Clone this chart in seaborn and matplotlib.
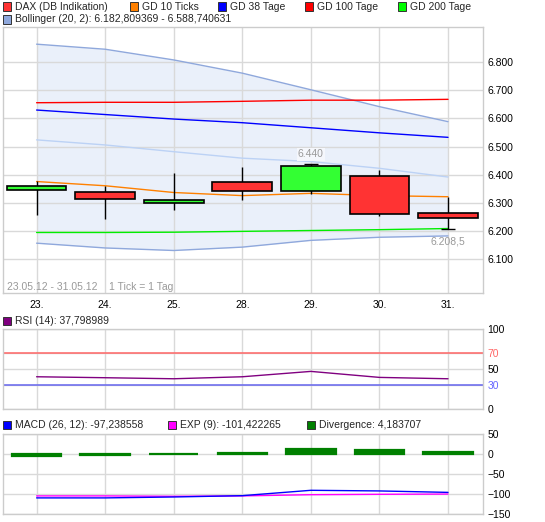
import numpy as np
import matplotlib
matplotlib.use("Agg")
import matplotlib.pyplot as plt
import matplotlib.patches as mpatches
from matplotlib.ticker import FuncFormatter
import seaborn as sns

# --- data ---
days = ["23.", "24.", "25.", "28.", "29.", "30.", "31."]
opens = [6347, 6340, 6298, 6375, 6343, 6396, 6264]
closes = [6361, 6314, 6312, 6343, 6432, 6259, 6247]
highs = [6379, 6361, 6408, 6426, 6440, 6418, 6322]
lows = [6257, 6243, 6275, 6310, 6331, 6255, 6208.5]

gd10 = [6376, 6361, 6337, 6326, 6334, 6326, 6322]
gd38 = [6630, 6614, 6598, 6585, 6567, 6549, 6533]
gd100 = [6656, 6657.5, 6657.5, 6661, 6665, 6665, 6668]
gd200 = [6195, 6195, 6196, 6199, 6202, 6205, 6209]
boll_upper = [6864, 6846, 6808, 6761, 6702, 6642, 6588.7]
boll_mid = [6524, 6506, 6482, 6459, 6447, 6423, 6392]
boll_lower = [6157, 6140, 6131, 6143, 6167, 6178, 6182.8]

rsi = [40.3, 39.1, 37.8, 40.3, 47.0, 39.5, 37.8]
macd = [-111, -111, -108.7, -105.4, -92, -93.6, -97.2]
exp9 = [-106, -106, -107, -106, -103, -102, -101.4]
divergence = [-7, -4.5, -2, 2, 12.5, 8, 5]

main_ticks = [6100, 6200, 6300, 6400, 6500, 6600, 6700, 6800]
rsi_ticks = [0, 30, 50, 70, 100]
macd_ticks = [-150, -100, -50, 0, 50]

sns.set_theme(style="white")
plt.rcParams['font.family'] = ['Liberation Sans', 'DejaVu Sans']
FS = 7.5
GRID = '#d9d9d9'
LW = 1.0

W, H = 545, 522
fig = plt.figure(figsize=(W / 100, H / 100), dpi=100)


def px_axes(x0, y0, x1, y1):
    return fig.add_axes([x0 / W, 1 - y1 / H, (x1 - x0) / W, (y1 - y0) / H])


ax = px_axes(3, 27, 483, 293)
ax_rsi = px_axes(3, 329, 483, 409)
ax_macd = px_axes(3, 433.5, 483, 513.5)

xs = np.arange(len(days))

for a in (ax, ax_rsi, ax_macd):
    a.set_xlim(-0.49, 6.51)
    a.set_axisbelow(True)
    a.grid(True, color=GRID, lw=1.0)
    for s in a.spines.values():
        s.set_color('#cccccc')
        s.set_linewidth(1.0)
    a.tick_params(axis='both', length=0, labelsize=FS, colors='black')
    a.tick_params(axis='y', left=False, labelleft=False, right=True, labelright=True, pad=3)
    a.set_xticks(xs)

# --- main panel ---
ax.fill_between(xs, boll_lower, boll_upper, color='#eaf0fa', lw=0, zorder=0.2)
sns.lineplot(x=xs, y=boll_upper, ax=ax, color='#8fa8dc', lw=LW, zorder=1)
sns.lineplot(x=xs, y=boll_lower, ax=ax, color='#8fa8dc', lw=LW, zorder=1)
sns.lineplot(x=xs, y=boll_mid, ax=ax, color='#bcd2f5', lw=LW, zorder=1)
sns.lineplot(x=xs, y=gd100, ax=ax, color='#ff0000', lw=LW, zorder=2)
sns.lineplot(x=xs, y=gd38, ax=ax, color='#0000ff', lw=LW, zorder=2)
sns.lineplot(x=xs, y=gd10, ax=ax, color='#ff8000', lw=LW, zorder=2)
sns.lineplot(x=xs, y=gd200, ax=ax, color='#00ee00', lw=LW, zorder=2)

ax.vlines(xs, lows, highs, color='black', lw=1.0, zorder=3)
o = np.array(opens)
c = np.array(closes)
body_col = ['#33ff33' if cc >= oo else '#ff3333' for oo, cc in zip(o, c)]
ax.bar(xs, np.abs(c - o), bottom=np.minimum(o, c), width=0.87, color=body_col,
       edgecolor='black', linewidth=1.2, zorder=4)

i_hi = int(np.argmax(highs))
i_lo = int(np.argmin(lows))
ax.hlines([highs[i_hi]], i_hi - 0.1, i_hi + 0.1, color='black', lw=1.0, zorder=3)
ax.hlines([lows[i_lo]], i_lo - 0.1, i_lo + 0.1, color='black', lw=1.0, zorder=3)
ax.text(i_hi, highs[i_hi] + 33, "6.440", ha='center', va='center', fontsize=FS, color='#999999',
        bbox=dict(facecolor='#f5f7fc', edgecolor='none', pad=1.0), zorder=5)
ax.text(i_lo, lows[i_lo] - 45, "6.208,5", ha='center', va='center', fontsize=FS, color='#999999', zorder=5)
ax.text(0.008, 0.024, "23.05.12 - 31.05.12    1 Tick = 1 Tag", transform=ax.transAxes,
        ha='left', va='center', fontsize=FS, color='#999999')

ax.set_ylim(5980, 6925)
ax.set_yticks(main_ticks)
ax.yaxis.set_major_formatter(FuncFormatter(lambda v, p: f"{v / 1000:.3f}"))
ax.set_xticklabels(days)
ax.tick_params(axis='x', pad=5)

# --- RSI panel ---
ax_rsi.axhline(70, color='#ff6666', lw=1.1, zorder=2)
ax_rsi.axhline(30, color='#6666ee', lw=1.1, zorder=2)
sns.lineplot(x=xs, y=rsi, ax=ax_rsi, color='#800080', lw=LW, zorder=3)
ax_rsi.set_ylim(0, 100)
ax_rsi.set_yticks(rsi_ticks)
ax_rsi.set_xticklabels([])
rsi_colors = {30: '#6666ff', 70: '#ff6666'}
for lab, v in zip(ax_rsi.get_yticklabels(), rsi_ticks):
    lab.set_color(rsi_colors.get(v, 'black'))

# --- MACD panel ---
ax_macd.bar(xs, divergence, width=0.72, color='#008000', edgecolor='#008000',
            linewidth=1.6, zorder=2)
sns.lineplot(x=xs, y=exp9, ax=ax_macd, color='#ff00ff', lw=LW, zorder=3)
sns.lineplot(x=xs, y=macd, ax=ax_macd, color='#0000ff', lw=LW, zorder=3)
ax_macd.set_ylim(-150, 50)
ax_macd.set_yticks(macd_ticks)
ax_macd.set_xticklabels([])

for a in (ax, ax_rsi, ax_macd):
    a.set_xlabel('')
    a.set_ylabel('')


# --- legends (drawn as figure text + squares) ---
def legend_item(x, y, color, label):
    fig.add_artist(mpatches.Rectangle((x / W, 1 - (y + 4) / H), 8 / W, 8 / H,
                                      transform=fig.transFigure, facecolor=color,
                                      edgecolor='#333333', lw=0.7))
    fig.text((x + 12) / W, 1 - y / H, label, ha='left', va='center', fontsize=FS)


legend_item(3, 6.5, '#ff3333', "DAX (DB Indikation)")
legend_item(130, 6.5, '#ff8000', "GD 10 Ticks")
legend_item(218, 6.5, '#0000ff', "GD 38 Tage")
legend_item(305, 6.5, '#ff0000', "GD 100 Tage")
legend_item(398, 6.5, '#00ff00', "GD 200 Tage")
legend_item(3, 19.5, '#8fa8dc', "Bollinger (20, 2): 6.182,809369 - 6.588,740631")
legend_item(3, 321, '#800080', "RSI (14): 37,798989")
legend_item(3, 425, '#0000ff', "MACD (26, 12): -97,238558")
legend_item(168, 425, '#ff00ff', "EXP (9): -101,422265")
legend_item(307, 425, '#008000', "Divergence: 4,183707")

fig.savefig("out.png", dpi=100)
